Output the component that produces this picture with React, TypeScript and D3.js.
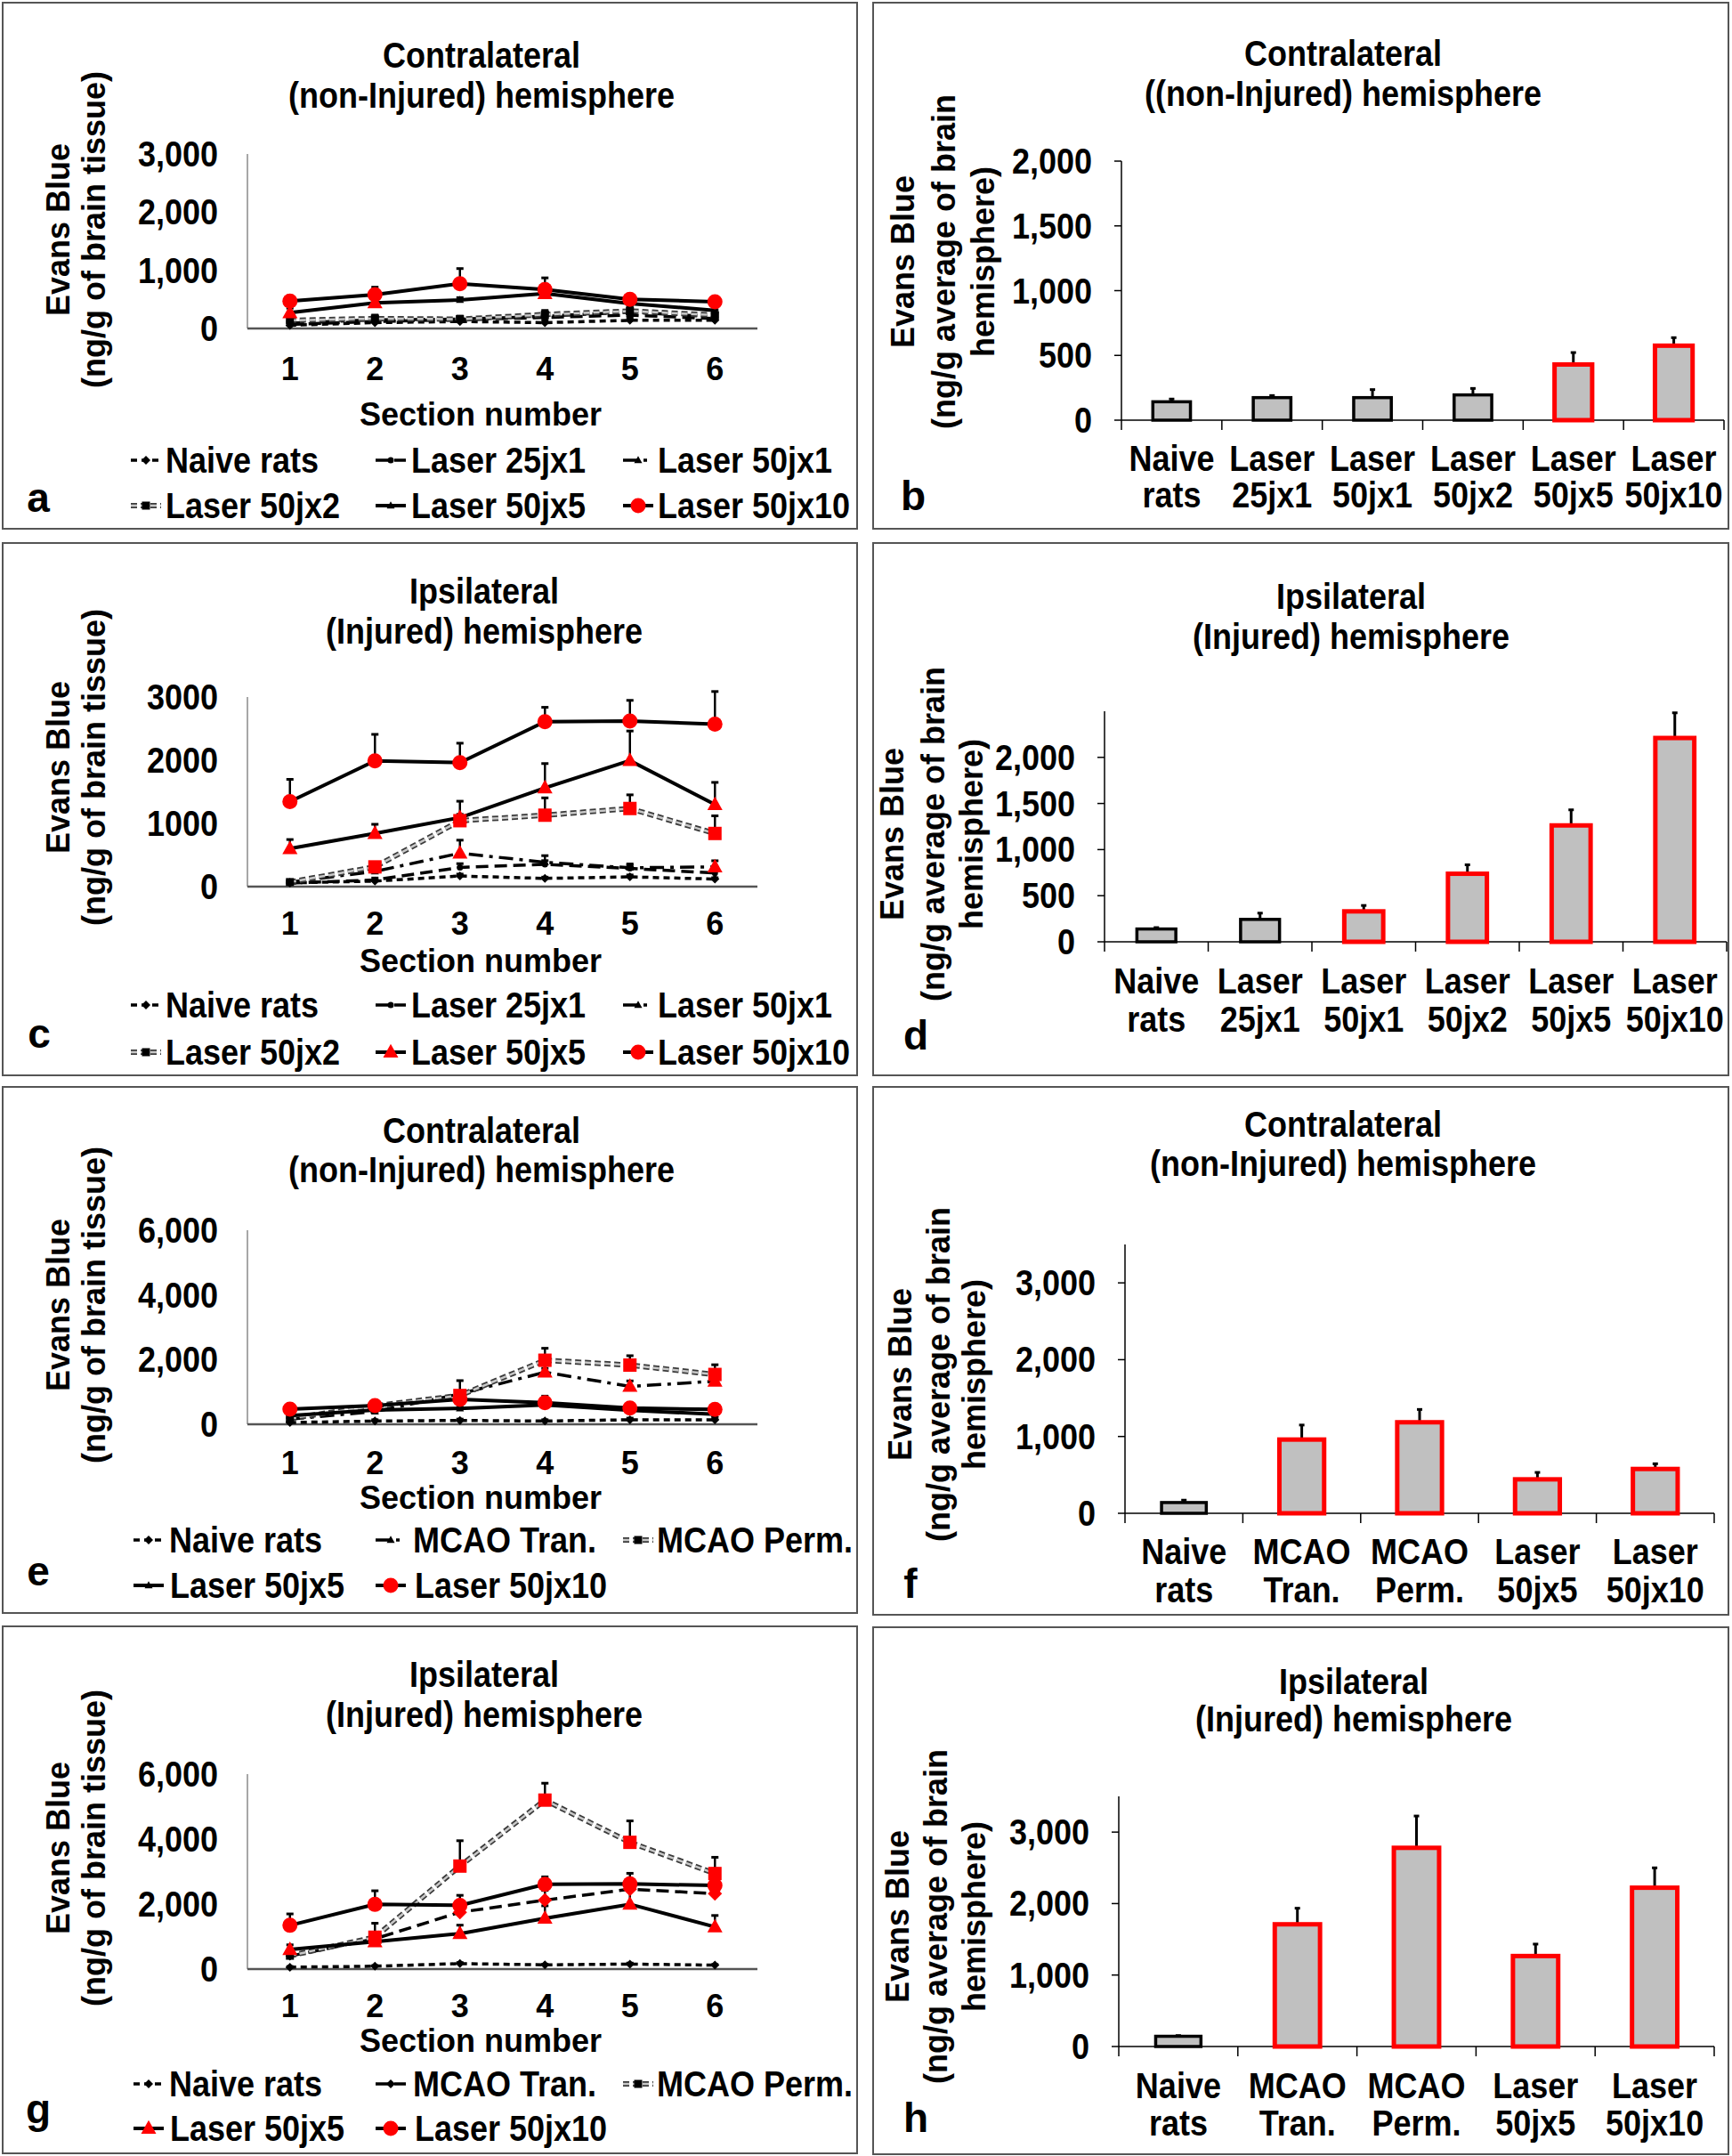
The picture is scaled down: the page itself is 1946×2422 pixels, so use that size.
import React from 'react';
import * as d3 from 'd3';

const W = 1946;
const H = 2422;
const FONT = "'Liberation Sans', Arial, Helvetica, sans-serif";

// ---------------- DATA ----------------
const sectionNumbers = ['1', '2', '3', '4', '5', '6'];

// Contralateral (non-injured) hemisphere, per section (panels a, e)
const contraNaive = [55, 100, 120, 100, 140, 140];
const contraNaiveErr = [30, 40, 40, 40, 50, 40];
const contraLaser25x1 = [70, 120, 150, 190, 230, 170];
const contraLaser25x1Err = [40, 60, 40, 60, 60, 50];
const contraLaser50x1 = [90, 150, 160, 210, 280, 200];
const contraLaser50x1Err = [40, 50, 50, 60, 90, 60];
const contraLaser50x2 = [140, 170, 160, 240, 300, 230];
const contraLaser50x2Err = [50, 60, 50, 70, 120, 90];
const contraLaser50x5 = [270, 440, 490, 600, 430, 310];
const contraLaser50x5Err = [80, 60, 40, 160, 60, 60];
const contraLaser50x10 = [470, 580, 770, 670, 500, 460];
const contraLaser50x10Err = [90, 130, 260, 200, 40, 40];
const contraMcaoTran = [160, 390, 940, 1610, 1170, 1330];
const contraMcaoTranErr = [30, 40, 80, 120, 170, 100];
const contraMcaoPerm = [180, 570, 890, 1980, 1830, 1540];
const contraMcaoPermErr = [40, 60, 460, 370, 290, 300];

// Ipsilateral (injured) hemisphere, per section (panels c, g)
const ipsiNaive = [58, 87, 168, 130, 154, 120];
const ipsiNaiveErr = [20, 20, 30, 20, 30, 20];
const ipsiLaser25x1 = [58, 106, 303, 351, 288, 216];
const ipsiLaser25x1Err = [20, 30, 60, 60, 50, 40];
const ipsiLaser50x1 = [72, 240, 529, 385, 298, 312];
const ipsiLaser50x1Err = [20, 50, 206, 105, 60, 97];
const ipsiLaser50x2 = [72, 312, 1043, 1130, 1236, 841];
const ipsiLaser50x2Err = [20, 40, 100, 274, 216, 279];
const ipsiLaser50x5 = [601, 841, 1091, 1563, 1995, 1298];
const ipsiLaser50x5Err = [144, 145, 260, 384, 467, 351];
const ipsiLaser50x10 = [1346, 1990, 1962, 2610, 2620, 2572];
const ipsiLaser50x10Err = [351, 419, 307, 227, 327, 515];
const ipsiMcaoTran = [400, 930, 1750, 2120, 2460, 2320];
const ipsiMcaoTranErr = [50, 150, 200, 300, 300, 250];
const ipsiMcaoPerm = [410, 980, 3170, 5200, 3900, 2940];
const ipsiMcaoPermErr = [50, 430, 780, 520, 660, 500];

// significant points (red markers)
const none6 = [0, 0, 0, 0, 0, 0];
const all6 = [1, 1, 1, 1, 1, 1];
const sigA50x5 = [1, 1, 0, 1, 0, 0];
const sigC50x2 = [0, 1, 1, 1, 1, 1];
const sigC50x1 = [0, 0, 1, 0, 0, 1];
const sigETran = [0, 0, 0, 1, 1, 1];
const sigEPerm = [0, 0, 1, 1, 1, 1];
const sigGTran = [0, 0, 1, 1, 1, 1];
const sigGPerm = [0, 1, 1, 1, 1, 1];

// Bar charts: hemisphere averages
const laserGroups = [['Naive', 'rats'], ['Laser', '25jx1'], ['Laser', '50jx1'], ['Laser', '50jx2'], ['Laser', '50jx5'], ['Laser', '50jx10']];
const mcaoGroups = [['Naive', 'rats'], ['MCAO', 'Tran.'], ['MCAO', 'Perm.'], ['Laser', '50jx5'], ['Laser', '50jx10']];

const barBValues = [142, 174, 174, 195, 430, 575];
const barBErr = [21, 16, 62, 50, 92, 62];
const barBRed = [0, 0, 0, 0, 1, 1];

const barDValues = [139, 243, 330, 738, 1262, 2210];
const barDErr = [15, 68, 64, 97, 169, 273];
const barDRed = [0, 0, 1, 1, 1, 1];

const barFValues = [140, 960, 1185, 442, 577];
const barFErr = [31, 189, 167, 90, 68];
const barFRed = [0, 1, 1, 1, 1];

const barHValues = [143, 1710, 2780, 1266, 2222];
const barHErr = [10, 225, 445, 167, 278];
const barHRed = [0, 1, 1, 1, 1];

const ticks3000 = [0, 1000, 2000, 3000];
const ticks6000 = [0, 2000, 4000, 6000];
const ticksBarB = [0, 500, 1000, 1500, 2000];
const ticksBarF = [0, 1000, 2000, 3000];

// ---------------- HELPERS ----------------
const comma = d3.format(',');
const plain = d3.format('d');

function NT({ x, y, text, anchor = 'middle', size = 40, sx = 0.9 }: any) {
  return (
    <text transform={`translate(${x},${y}) scale(${sx},1)`} textAnchor={anchor}
      fontFamily={FONT} fontWeight="bold" fontSize={size} fill="#000">{text}</text>
  );
}

function YLabel({ x, y, text, size = 36 }: any) {
  return (
    <text transform={`translate(${x + 13},${y}) rotate(-90)`} textAnchor="middle"
      fontFamily={FONT} fontWeight="bold" fontSize={size} fill="#000">{text}</text>
  );
}

const STYLES: any = {
  naive: { dash: '7,5', width: 3.5, marker: 'diamond' },
  l25: { dash: '14,7', width: 3.5, marker: 'dot' },
  dashdot: { dash: '16,7,4,7', width: 3.5, marker: 'triangle' },
  gray: { dash: '7,4', width: 6, marker: 'square', outlined: true },
  solidTri: { dash: null, width: 4, marker: 'triangle' },
  solidCircle: { dash: null, width: 4, marker: 'circle' },
  longDiamond: { dash: '14,7', width: 3.5, marker: 'diamond' },
};

function Marker({ kind, x, y, red }: any) {
  const fill = red ? '#ff0000' : '#000';
  if (kind === 'circle') return <circle cx={x} cy={y} r={red ? 8.5 : 4.5} fill={fill} />;
  if (kind === 'dot') return <circle cx={x} cy={y} r={red ? 7 : 3.5} fill={fill} />;
  if (kind === 'square') {
    const s = red ? 15 : 9;
    return <rect x={x - s / 2} y={y - s / 2} width={s} height={s} fill={fill} />;
  }
  if (kind === 'triangle') {
    const s = red ? 17 : 9;
    const h = s * 0.9;
    return <path d={`M${x},${y - h * 0.6} L${x + s / 2},${y + h * 0.4} L${x - s / 2},${y + h * 0.4} Z`} fill={fill} />;
  }
  const s = red ? 8 : 5;
  return <path d={`M${x},${y - s} L${x + s},${y} L${x},${y + s} L${x - s},${y} Z`} fill={fill} />;
}

function StyledPath({ d, style }: any) {
  const st = STYLES[style];
  if (st.outlined) {
    return (
      <g fill="none">
        <path d={d} stroke="#3a3a3a" strokeWidth={st.width} strokeDasharray={st.dash} />
        <path d={d} stroke="#c8c8c8" strokeWidth={st.width - 3.5} strokeDasharray={st.dash} />
      </g>
    );
  }
  return <path d={d} fill="none" stroke="#000" strokeWidth={st.width} strokeDasharray={st.dash || undefined} />;
}

function Border({ box }: any) {
  return <rect x={box.x} y={box.y} width={box.w} height={box.h} fill="none" stroke="#555" strokeWidth={2} />;
}

function LinePanel(p: any) {
  const x = d3.scaleBand().domain(sectionNumbers).range([p.x0, p.x1]);
  const cx = (i: number) => (x(sectionNumbers[i]) as number) + x.bandwidth() / 2;
  const y = d3.scaleLinear().domain([0, p.yMax]).range([p.y0, p.yTop]);
  const line = d3.line<number>().x((_, i) => cx(i)).y((v) => y(v));
  const order = [...p.series].sort((a: any, b: any) => (STYLES[a.style].dash ? 0 : 1) - (STYLES[b.style].dash ? 0 : 1));
  return (
    <g>
      <Border box={p.box} />
      {p.title.map((t: string, i: number) => <NT key={i} x={p.titleX} y={p.titleYs[i] + 14} text={t} />)}
      <YLabel x={65} y={p.ylabelY} text="Evans Blue" />
      <YLabel x={105} y={p.ylabelY} text="(ng/g of brain tissue)" />
      {p.ticks.map((t: number) => (
        <NT key={t} x={p.x0 - 33} y={y(t) + 14} text={p.fmt(t)} anchor="end" />
      ))}
      <line x1={p.x0} x2={p.x0} y1={p.yTop} y2={p.y0} stroke="#8a8a8a" strokeWidth={1.5} />
      <line x1={p.x0} x2={p.x1} y1={p.y0} y2={p.y0} stroke="#555" strokeWidth={2.5} />
      {sectionNumbers.map((s, i) => <NT key={s} x={cx(i)} y={p.xLabelY + 13} text={s} size={36} sx={1} />)}
      <NT x={540} y={p.xTitleY + 13} text="Section number" size={36} sx={1} />
      {order.map((s: any) => <StyledPath key={s.name} d={line(s.values)} style={s.style} />)}
      {order.map((s: any) => (
        <g key={s.name + 'e'} stroke="#000" strokeWidth={2.5}>
          {s.values.map((v: number, i: number) => s.errors[i] > 0 ? (
            <g key={i}>
              <line x1={cx(i)} x2={cx(i)} y1={y(v)} y2={y(v + s.errors[i])} />
              <line x1={cx(i) - 4} x2={cx(i) + 4} y1={y(v + s.errors[i])} y2={y(v + s.errors[i])} strokeWidth={3} />
            </g>
          ) : null)}
        </g>
      ))}
      {order.map((s: any) => (
        <g key={s.name + 'm'}>
          {s.values.map((v: number, i: number) => (
            <Marker key={i} kind={STYLES[s.style].marker} x={cx(i)} y={y(v)} red={s.sig[i] === 1} />
          ))}
        </g>
      ))}
      {p.legend.map((it: any, k: number) => {
        const s = p.series[it.idx];
        const ly = p.legendYs[it.row];
        return (
          <g key={k}>
            <StyledPath d={`M${it.mx},${ly} L${it.mx + 34},${ly}`} style={s.style} />
            <Marker kind={STYLES[s.style].marker} x={it.mx + 17} y={ly} red={s.legendRed} />
            <NT x={it.tx} y={ly + 14} text={s.name} anchor="start" />
          </g>
        );
      })}
      <text x={p.letter.x} y={p.letter.y} textAnchor="middle" fontFamily={FONT} fontWeight="bold" fontSize={46}>{p.letter.t}</text>
    </g>
  );
}

function BarPanel(p: any) {
  const keys = p.cats.map((c: string[]) => c.join(' '));
  const x = d3.scaleBand().domain(keys).range([p.x0, p.x1]);
  const y = d3.scaleLinear().domain([0, p.yMax]).range([p.y0, p.yTop]);
  const bw = x.bandwidth() * 0.41 - 4;
  const cx = (i: number) => (x(keys[i]) as number) + x.bandwidth() / 2;
  return (
    <g>
      <Border box={p.box} />
      {p.title.map((t: string, i: number) => <NT key={i} x={p.titleX} y={p.titleYs[i] + 14} text={t} />)}
      <YLabel x={p.ylabelXs[0]} y={p.ylabelY} text="Evans Blue" />
      <YLabel x={p.ylabelXs[1]} y={p.ylabelY} text="(ng/g average of brain" />
      <YLabel x={p.ylabelXs[2]} y={p.ylabelY} text="hemisphere)" />
      {p.ticks.map((t: number) => (
        <g key={t}>
          <NT x={p.x0 - 33} y={y(t) + 14} text={comma(t)} anchor="end" />
          <line x1={p.x0 - 8} x2={p.x0} y1={y(t)} y2={y(t)} stroke="#000" strokeWidth={1.5} />
        </g>
      ))}
      <line x1={p.x0} x2={p.x0} y1={p.yTop} y2={p.y0 + 11} stroke="#000" strokeWidth={1.5} />
      <line x1={p.x0} x2={p.x1} y1={p.y0} y2={p.y0} stroke="#000" strokeWidth={1.5} />
      {keys.map((k: string) => (
        <line key={k} x1={(x(k) as number) + x.bandwidth()} x2={(x(k) as number) + x.bandwidth()}
          y1={p.y0} y2={p.y0 + 11} stroke="#000" strokeWidth={1.5} />
      ))}
      {p.values.map((v: number, i: number) => {
        const red = p.red[i] === 1;
        return (
          <g key={i}>
            <line x1={cx(i)} x2={cx(i)} y1={y(v)} y2={y(v + p.errors[i])} stroke="#000" strokeWidth={3} />
            <line x1={cx(i) - 3} x2={cx(i) + 3} y1={y(v + p.errors[i])} y2={y(v + p.errors[i])} stroke="#000" strokeWidth={3} />
            <rect x={cx(i) - bw / 2} y={y(v)} width={bw} height={p.y0 - y(v)} fill="#c0c0c0"
              stroke={red ? '#ff0000' : '#000'} strokeWidth={red ? 5 : 3.5} />
          </g>
        );
      })}
      {p.cats.map((c: string[], i: number) => (
        <g key={i}>
          <NT x={cx(i)} y={p.catYs[0] + 14} text={c[0]} />
          <NT x={cx(i)} y={p.catYs[1] + 14} text={c[1]} />
        </g>
      ))}
      <text x={p.letter.x} y={p.letter.y} textAnchor="middle" fontFamily={FONT} fontWeight="bold" fontSize={46}>{p.letter.t}</text>
    </g>
  );
}

// ---------------- SERIES ----------------
const seriesA = [
  { name: 'Naive rats', values: contraNaive, errors: contraNaiveErr, sig: none6, style: 'naive' },
  { name: 'Laser 25jx1', values: contraLaser25x1, errors: contraLaser25x1Err, sig: none6, style: 'l25' },
  { name: 'Laser 50jx1', values: contraLaser50x1, errors: contraLaser50x1Err, sig: none6, style: 'dashdot' },
  { name: 'Laser 50jx2', values: contraLaser50x2, errors: contraLaser50x2Err, sig: none6, style: 'gray' },
  { name: 'Laser 50jx5', values: contraLaser50x5, errors: contraLaser50x5Err, sig: sigA50x5, style: 'solidTri' },
  { name: 'Laser 50jx10', values: contraLaser50x10, errors: contraLaser50x10Err, sig: all6, style: 'solidCircle', legendRed: true },
];
const seriesC = [
  { name: 'Naive rats', values: ipsiNaive, errors: ipsiNaiveErr, sig: none6, style: 'naive' },
  { name: 'Laser 25jx1', values: ipsiLaser25x1, errors: ipsiLaser25x1Err, sig: none6, style: 'l25' },
  { name: 'Laser 50jx1', values: ipsiLaser50x1, errors: ipsiLaser50x1Err, sig: sigC50x1, style: 'dashdot' },
  { name: 'Laser 50jx2', values: ipsiLaser50x2, errors: ipsiLaser50x2Err, sig: sigC50x2, style: 'gray' },
  { name: 'Laser 50jx5', values: ipsiLaser50x5, errors: ipsiLaser50x5Err, sig: all6, style: 'solidTri', legendRed: true },
  { name: 'Laser 50jx10', values: ipsiLaser50x10, errors: ipsiLaser50x10Err, sig: all6, style: 'solidCircle', legendRed: true },
];
const seriesE = [
  { name: 'Naive rats', values: contraNaive, errors: contraNaiveErr, sig: none6, style: 'naive' },
  { name: 'MCAO Tran.', values: contraMcaoTran, errors: contraMcaoTranErr, sig: sigETran, style: 'dashdot' },
  { name: 'MCAO Perm.', values: contraMcaoPerm, errors: contraMcaoPermErr, sig: sigEPerm, style: 'gray' },
  { name: 'Laser 50jx5', values: contraLaser50x5, errors: contraLaser50x5Err, sig: none6, style: 'solidTri' },
  { name: 'Laser 50jx10', values: contraLaser50x10, errors: contraLaser50x10Err, sig: all6, style: 'solidCircle', legendRed: true },
];
const seriesG = [
  { name: 'Naive rats', values: ipsiNaive, errors: ipsiNaiveErr, sig: none6, style: 'naive' },
  { name: 'MCAO Tran.', values: ipsiMcaoTran, errors: ipsiMcaoTranErr, sig: sigGTran, style: 'longDiamond' },
  { name: 'MCAO Perm.', values: ipsiMcaoPerm, errors: ipsiMcaoPermErr, sig: sigGPerm, style: 'gray' },
  { name: 'Laser 50jx5', values: ipsiLaser50x5, errors: ipsiLaser50x5Err, sig: all6, style: 'solidTri', legendRed: true },
  { name: 'Laser 50jx10', values: ipsiLaser50x10, errors: ipsiLaser50x10Err, sig: all6, style: 'solidCircle', legendRed: true },
];

const legend6 = [
  { idx: 0, row: 0, mx: 147, tx: 186 },
  { idx: 1, row: 0, mx: 422, tx: 462 },
  { idx: 2, row: 0, mx: 700, tx: 739 },
  { idx: 3, row: 1, mx: 147, tx: 186 },
  { idx: 4, row: 1, mx: 422, tx: 462 },
  { idx: 5, row: 1, mx: 700, tx: 739 },
];
const legend5 = [
  { idx: 0, row: 0, mx: 150, tx: 190 },
  { idx: 1, row: 0, mx: 422, tx: 464 },
  { idx: 2, row: 0, mx: 700, tx: 738 },
  { idx: 3, row: 1, mx: 150, tx: 191 },
  { idx: 4, row: 1, mx: 422, tx: 466 },
];

const titleContra = ['Contralateral', '(non-Injured) hemisphere'];
const titleContraB = ['Contralateral', '((non-Injured) hemisphere'];
const titleIpsi = ['Ipsilateral', '(Injured) hemisphere'];

export default function App() {
  return (
    <svg width={W} height={H} style={{ position: 'absolute', left: 0, top: 0, background: '#fff' }}>
      <rect x={0} y={0} width={W} height={H} fill="#fff" />
      <LinePanel box={{ x: 3, y: 3, w: 960, h: 591 }} title={titleContra} titleX={541} titleYs={[62, 107]}
        x0={278} x1={851} y0={369} yTop={173} yMax={3000} ticks={ticks3000} fmt={comma}
        xLabelY={414} xTitleY={465} legendYs={[517, 568]} legend={legend6} series={seriesA}
        ylabelY={258} letter={{ t: 'a', x: 43, y: 575 }} />
      <LinePanel box={{ x: 3, y: 610, w: 960, h: 598 }} title={titleIpsi} titleX={544} titleYs={[664, 709]}
        x0={278} x1={851} y0={996} yTop={783} yMax={3000} ticks={ticks3000} fmt={plain}
        xLabelY={1037} xTitleY={1079} legendYs={[1129, 1182]} legend={legend6} series={seriesC}
        ylabelY={862} letter={{ t: 'c', x: 44, y: 1177 }} />
      <LinePanel box={{ x: 3, y: 1221, w: 960, h: 591 }} title={titleContra} titleX={541} titleYs={[1270, 1314]}
        x0={278} x1={851} y0={1600} yTop={1382} yMax={6000} ticks={ticks6000} fmt={comma}
        xLabelY={1643} xTitleY={1682} legendYs={[1730, 1781]} legend={legend5} series={seriesE}
        ylabelY={1466} letter={{ t: 'e', x: 43, y: 1781 }} />
      <LinePanel box={{ x: 3, y: 1827, w: 960, h: 592 }} title={titleIpsi} titleX={544} titleYs={[1881, 1926]}
        x0={278} x1={851} y0={2212} yTop={1993} yMax={6000} ticks={ticks6000} fmt={comma}
        xLabelY={2253} xTitleY={2292} legendYs={[2341, 2391]} legend={legend5} series={seriesG}
        ylabelY={2076} letter={{ t: 'g', x: 43, y: 2385 }} />

      <BarPanel box={{ x: 981, y: 3, w: 961, h: 591 }} title={titleContraB} titleX={1509} titleYs={[60, 105]}
        cats={laserGroups} values={barBValues} errors={barBErr} red={barBRed}
        x0={1260} x1={1937} y0={472} yTop={181} yMax={2000} ticks={ticksBarB}
        catYs={[515, 556]} ylabelXs={[1014, 1060, 1104]} ylabelY={294} letter={{ t: 'b', x: 1026, y: 573 }} />
      <BarPanel box={{ x: 981, y: 610, w: 961, h: 598 }} title={titleIpsi} titleX={1518} titleYs={[670, 715]}
        cats={laserGroups} values={barDValues} errors={barDErr} red={barDRed}
        x0={1241} x1={1940} y0={1058} yTop={799} yMax={2500} ticks={ticksBarB}
        catYs={[1102, 1145]} ylabelXs={[1002, 1048, 1091]} ylabelY={937} letter={{ t: 'd', x: 1029, y: 1179 }} />
      <BarPanel box={{ x: 981, y: 1221, w: 961, h: 593 }} title={titleContra} titleX={1509} titleYs={[1263, 1307]}
        cats={mcaoGroups} values={barFValues} errors={barFErr} red={barFRed}
        x0={1264} x1={1926} y0={1700} yTop={1398} yMax={3500} ticks={ticksBarF}
        catYs={[1743, 1786]} ylabelXs={[1011, 1054, 1094]} ylabelY={1544} letter={{ t: 'f', x: 1023, y: 1795 }} />
      <BarPanel box={{ x: 981, y: 1828, w: 961, h: 592 }} title={titleIpsi} titleX={1521} titleYs={[1889, 1931]}
        cats={mcaoGroups} values={barHValues} errors={barHErr} red={barHRed}
        x0={1257} x1={1926} y0={2299} yTop={2018} yMax={3500} ticks={ticksBarF}
        catYs={[2343, 2385]} ylabelXs={[1008, 1051, 1094]} ylabelY={2153} letter={{ t: 'h', x: 1029, y: 2395 }} />
    </svg>
  );
}
